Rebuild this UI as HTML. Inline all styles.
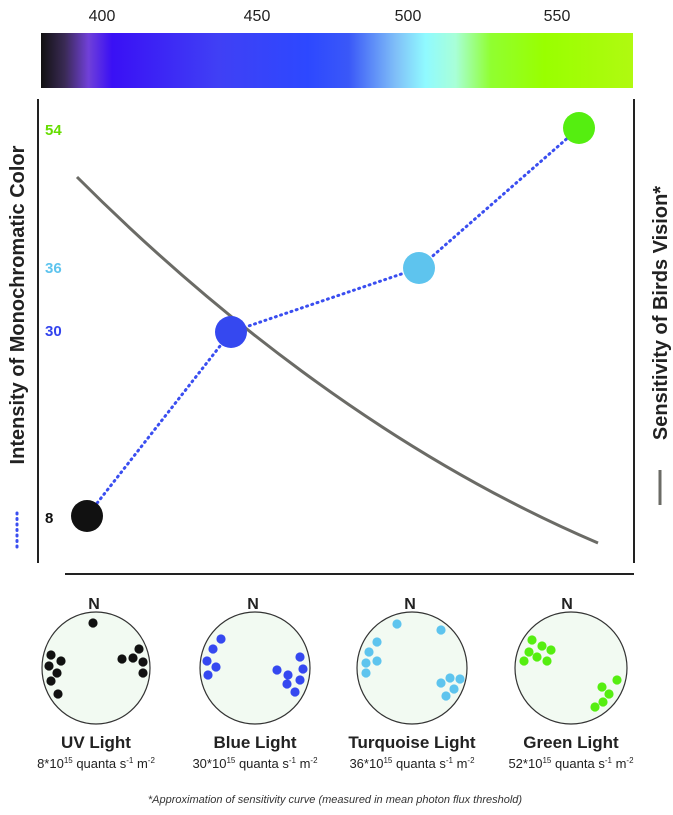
<!DOCTYPE html>
<html><head><meta charset="utf-8"><style>
html,body{margin:0;padding:0;background:#fff;}
svg{display:block;font-family:"Liberation Sans",sans-serif;}
</style></head><body>
<svg width="673" height="815" viewBox="0 0 673 815" xmlns="http://www.w3.org/2000/svg">
<defs>
<linearGradient id="sp" x1="0" x2="1" y1="0" y2="0">
<stop offset="0" stop-color="#111"/>
<stop offset="0.04" stop-color="#3a2a55"/>
<stop offset="0.08" stop-color="#7040d8"/>
<stop offset="0.12" stop-color="#3a10f5"/>
<stop offset="0.3" stop-color="#4040f5"/>
<stop offset="0.45" stop-color="#2d48ff"/>
<stop offset="0.52" stop-color="#3a58f8"/>
<stop offset="0.6" stop-color="#80c0f8"/>
<stop offset="0.65" stop-color="#90faff"/>
<stop offset="0.7" stop-color="#a8ffd8"/>
<stop offset="0.76" stop-color="#90ff30"/>
<stop offset="0.85" stop-color="#99ff00"/>
<stop offset="1" stop-color="#b0fa10"/>
</linearGradient>
</defs>
<g font-size="16" fill="#222" text-anchor="middle">
<text x="102" y="21">400</text><text x="257" y="21">450</text><text x="408" y="21">500</text><text x="557" y="21">550</text>
</g>
<rect x="41" y="33" width="592" height="55" fill="url(#sp)"/>
<line x1="38" y1="99" x2="38" y2="563" stroke="#222" stroke-width="2"/>
<line x1="634" y1="99" x2="634" y2="563" stroke="#222" stroke-width="2"/>
<line x1="65" y1="574" x2="634" y2="574" stroke="#222" stroke-width="2"/>
<path d="M77,177 C200,300 380,450 598,543" fill="none" stroke="#6b6b66" stroke-width="3"/>
<polyline points="87,516 231,332 419,268 579,128" fill="none" stroke="#3a4ef0" stroke-width="3" stroke-dasharray="1,4.5" stroke-linecap="round"/>
<circle cx="87" cy="516" r="16" fill="#111"/>
<circle cx="231" cy="332" r="16" fill="#3548f0"/>
<circle cx="419" cy="268" r="16" fill="#5ec4ee"/>
<circle cx="579" cy="128" r="16" fill="#55ee10"/>
<g font-weight="bold" font-size="15">
<text x="45" y="135" fill="#66dd00">54</text>
<text x="45" y="273" fill="#5ec4ee">36</text>
<text x="45" y="336" fill="#3344ee">30</text>
<text x="45" y="523" fill="#111">8</text>
</g>
<text transform="translate(24,305) rotate(-90)" text-anchor="middle" font-weight="bold" font-size="20" fill="#222">Intensity of Monochromatic Color</text>
<line x1="17" y1="513" x2="17" y2="550" stroke="#3a4ef0" stroke-width="3" stroke-dasharray="1,4.5" stroke-linecap="round"/>
<text transform="translate(667,313) rotate(-90)" text-anchor="middle" font-weight="bold" font-size="20" fill="#222">Sensitivity of Birds Vision*</text>
<line x1="660" y1="470" x2="660" y2="505" stroke="#6b6b66" stroke-width="3"/>
<g fill="#f2faf2" stroke="#333" stroke-width="1.2">
<ellipse cx="96" cy="668" rx="54" ry="56"/>
<ellipse cx="255" cy="668" rx="55" ry="56"/>
<ellipse cx="412" cy="668" rx="55" ry="56"/>
<ellipse cx="571" cy="668" rx="56" ry="56"/>
</g>
<g font-weight="bold" font-size="16" fill="#222" text-anchor="middle">
<text x="94" y="609">N</text><text x="253" y="609">N</text><text x="410" y="609">N</text><text x="567" y="609">N</text>
</g>
<g fill="#111">
<circle cx="93" cy="623" r="4.6"/><circle cx="51" cy="655" r="4.6"/><circle cx="61" cy="661" r="4.6"/><circle cx="49" cy="666" r="4.6"/><circle cx="57" cy="673" r="4.6"/><circle cx="51" cy="681" r="4.6"/><circle cx="58" cy="694" r="4.6"/><circle cx="122" cy="659" r="4.6"/><circle cx="133" cy="658" r="4.6"/><circle cx="139" cy="649" r="4.6"/><circle cx="143" cy="662" r="4.6"/><circle cx="143" cy="673" r="4.6"/>
</g>
<g fill="#3548f0">
<circle cx="221" cy="639" r="4.6"/><circle cx="213" cy="649" r="4.6"/><circle cx="207" cy="661" r="4.6"/><circle cx="216" cy="667" r="4.6"/><circle cx="208" cy="675" r="4.6"/><circle cx="277" cy="670" r="4.6"/><circle cx="288" cy="675" r="4.6"/><circle cx="300" cy="657" r="4.6"/><circle cx="303" cy="669" r="4.6"/><circle cx="300" cy="680" r="4.6"/><circle cx="287" cy="684" r="4.6"/><circle cx="295" cy="692" r="4.6"/>
</g>
<g fill="#5ec4ee">
<circle cx="397" cy="624" r="4.6"/><circle cx="441" cy="630" r="4.6"/><circle cx="377" cy="642" r="4.6"/><circle cx="369" cy="652" r="4.6"/><circle cx="366" cy="663" r="4.6"/><circle cx="377" cy="661" r="4.6"/><circle cx="366" cy="673" r="4.6"/><circle cx="441" cy="683" r="4.6"/><circle cx="450" cy="678" r="4.6"/><circle cx="460" cy="679" r="4.6"/><circle cx="454" cy="689" r="4.6"/><circle cx="446" cy="696" r="4.6"/>
</g>
<g fill="#55ee10">
<circle cx="532" cy="640" r="4.6"/><circle cx="542" cy="646" r="4.6"/><circle cx="551" cy="650" r="4.6"/><circle cx="529" cy="652" r="4.6"/><circle cx="537" cy="657" r="4.6"/><circle cx="547" cy="661" r="4.6"/><circle cx="524" cy="661" r="4.6"/><circle cx="617" cy="680" r="4.6"/><circle cx="602" cy="687" r="4.6"/><circle cx="609" cy="694" r="4.6"/><circle cx="603" cy="702" r="4.6"/><circle cx="595" cy="707" r="4.6"/>
</g>
<g font-weight="bold" font-size="17" fill="#222" text-anchor="middle">
<text x="96" y="748">UV Light</text><text x="255" y="748">Blue Light</text><text x="412" y="748">Turquoise Light</text><text x="571" y="748">Green Light</text>
</g>
<g font-size="13" fill="#222" text-anchor="middle" font-family="Liberation Sans Narrow, Liberation Sans, sans-serif">
<text x="96" y="768">8*10<tspan font-size="8" dy="-5">15</tspan><tspan dy="5"> quanta s</tspan><tspan font-size="8" dy="-5">-1</tspan><tspan dy="5"> m</tspan><tspan font-size="8" dy="-5">-2</tspan></text>
<text x="255" y="768">30*10<tspan font-size="8" dy="-5">15</tspan><tspan dy="5"> quanta s</tspan><tspan font-size="8" dy="-5">-1</tspan><tspan dy="5"> m</tspan><tspan font-size="8" dy="-5">-2</tspan></text>
<text x="412" y="768">36*10<tspan font-size="8" dy="-5">15</tspan><tspan dy="5"> quanta s</tspan><tspan font-size="8" dy="-5">-1</tspan><tspan dy="5"> m</tspan><tspan font-size="8" dy="-5">-2</tspan></text>
<text x="571" y="768">52*10<tspan font-size="8" dy="-5">15</tspan><tspan dy="5"> quanta s</tspan><tspan font-size="8" dy="-5">-1</tspan><tspan dy="5"> m</tspan><tspan font-size="8" dy="-5">-2</tspan></text>
</g>
<text x="335" y="803" text-anchor="middle" font-style="italic" font-size="11" fill="#333">*Approximation of sensitivity curve (measured in mean photon flux threshold)</text>
</svg>
</body></html>
